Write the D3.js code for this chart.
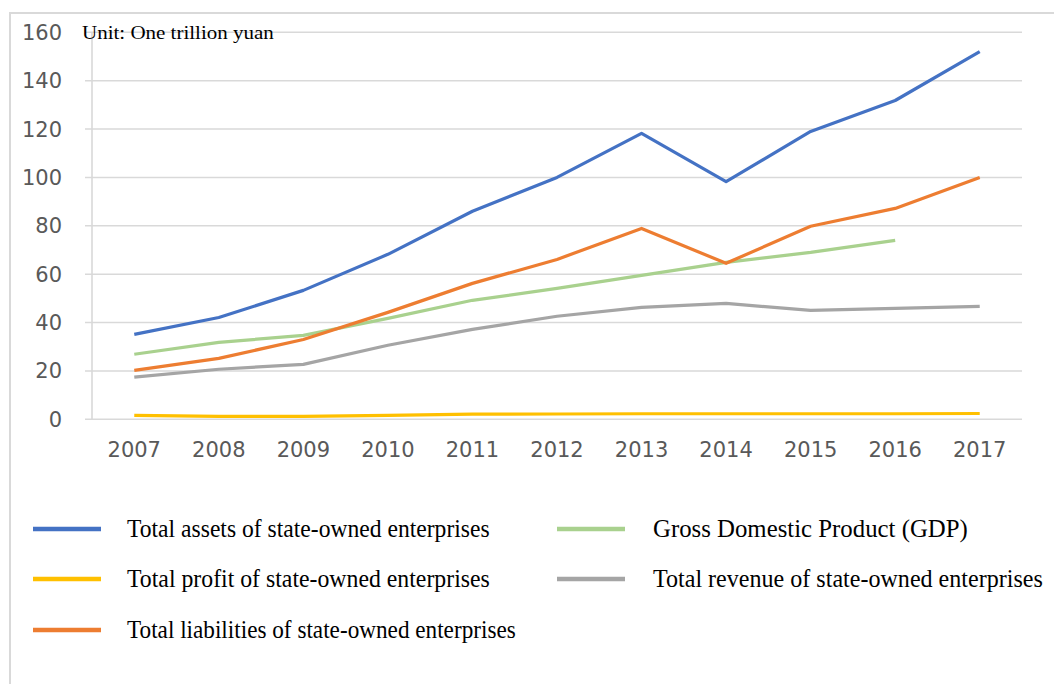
<!DOCTYPE html>
<html><head><meta charset="utf-8">
<script src="https://cdn.jsdelivr.net/npm/d3@7"></script>
<style>body{margin:0;background:#fff}svg{display:block}</style>
</head><body>
<svg id="c" width="1054" height="684"></svg>
<script>
const years = ["2007","2008","2009","2010","2011","2012","2013","2014","2015","2016","2017"];
const yTicks = [0,20,40,60,80,100,120,140,160];
const assets      = [35.1,42.1,53.3,68.2,86.0,100.0,118.2,98.3,119.0,131.8,152.0];
const liabilities = [20.2,25.2,33.0,44.2,56.2,66.1,78.9,64.5,79.8,87.2,100.0];
const gdp         = [26.9,31.8,34.7,41.7,49.2,54.1,59.5,64.9,69.0,74.0,null];
const revenue     = [17.4,20.7,22.7,30.6,37.2,42.6,46.3,47.9,45.0,45.9,46.7];
const profit      = [1.6,1.2,1.2,1.6,2.1,2.2,2.3,2.3,2.3,2.3,2.4];
const seriesNames = ["Total assets of state-owned enterprises","Gross Domestic Product (GDP)","Total profit of state-owned enterprises","Total revenue of state-owned enterprises","Total liabilities of state-owned enterprises"];
const unitLabel = "Unit: One trillion yuan";

const series = [
  {name: seriesNames[3], values: revenue, color: "#A5A5A5"},
  {name: seriesNames[2], values: profit, color: "#FFC000"},
  {name: seriesNames[1], values: gdp, color: "#A9D18E"},
  {name: seriesNames[4], values: liabilities, color: "#ED7D31"},
  {name: seriesNames[0], values: assets, color: "#4472C4"}
];

const svg = d3.select("#c");
svg.append("path").attr("d","M10,684 L10,13 L1054,13").attr("fill","none").attr("stroke","#D9D9D9").attr("stroke-width",2);

const x = d3.scaleBand().domain(years).range([92,1022]);
const y = d3.scaleLinear().domain([0,160]).range([419.3,32.3]);

svg.append("g").selectAll("line").data(yTicks).join("line")
  .attr("x1",85).attr("x2",1022).attr("y1",d=>y(d)).attr("y2",d=>y(d))
  .attr("stroke","#D9D9D9").attr("stroke-width",1.6);
svg.append("line").attr("x1",92).attr("x2",92).attr("y1",y(160)).attr("y2",y(0)).attr("stroke","#D9D9D9").attr("stroke-width",1.6);

svg.append("g").selectAll("text").data(yTicks).join("text")
  .attr("x",62).attr("y",d=>y(d)).attr("dy","0.36em").attr("text-anchor","end")
  .attr("font-family","DejaVu Sans").attr("font-size",21).attr("fill","#595959").text(d=>d);
svg.append("g").selectAll("text").data(years).join("text")
  .attr("x",d=>x(d)+x.bandwidth()/2).attr("y",457).attr("text-anchor","middle")
  .attr("font-family","DejaVu Sans").attr("font-size",21).attr("fill","#595959").text(d=>d);

const line = d3.line().defined(d=>d!=null).x((d,i)=>x(years[i])+x.bandwidth()/2).y(d=>y(d));
svg.append("g").selectAll("path").data(series).join("path")
  .attr("d",d=>line(d.values)).attr("fill","none").attr("stroke",d=>d.color)
  .attr("stroke-width",3.2).attr("stroke-linejoin","round");

function fitWidth(sel, tx, w){
  sel.each(function(){
    const n = this.getComputedTextLength();
    const s = w / n;
    d3.select(this).attr("transform", `translate(${tx},0) scale(${s},1) translate(${-tx},0)`);
  });
}

const ut = svg.append("text").attr("x",82).attr("y",39).attr("font-family","Liberation Serif")
  .attr("font-size",19).attr("fill","#000").text(unitLabel);
fitWidth(ut, 82, 192);

const legend = [
  {name: seriesNames[0], color:"#4472C4", lx:33, tx:127, yy:529, w:363},
  {name: seriesNames[1], color:"#A9D18E", lx:557, tx:653, yy:529, w:315},
  {name: seriesNames[2], color:"#FFC000", lx:33, tx:127, yy:579, w:363},
  {name: seriesNames[3], color:"#A5A5A5", lx:557, tx:653, yy:579, w:390},
  {name: seriesNames[4], color:"#ED7D31", lx:33, tx:127, yy:630, w:389}
];
const lg = svg.append("g").selectAll("g").data(legend).join("g");
lg.append("line").attr("x1",d=>d.lx).attr("x2",d=>d.lx+68).attr("y1",d=>d.yy).attr("y2",d=>d.yy)
  .attr("stroke",d=>d.color).attr("stroke-width",4.5);
lg.append("text").attr("x",d=>d.tx).attr("y",d=>d.yy+8).attr("font-family","Liberation Serif")
  .attr("font-size",25).attr("fill","#000").text(d=>d.name)
  .each(function(d){ fitWidth(d3.select(this), d.tx, d.w); });
</script>
</body></html>
